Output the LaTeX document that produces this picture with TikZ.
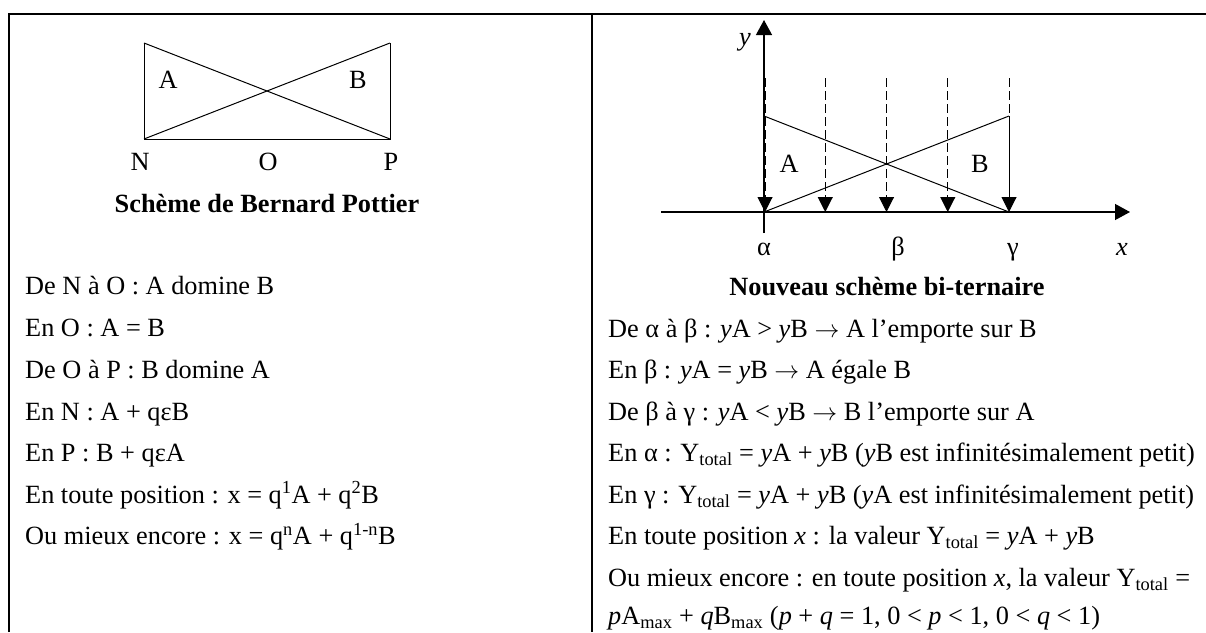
\documentclass[tikz,border=0pt]{standalone}
\usepackage{fontspec}
\setmainfont{Liberation Serif}
\usetikzlibrary{arrows.meta}
\newcommand{\myarr}{$\rightarrow$}
\begin{document}
\begin{tikzpicture}[x=1pt,y=-1pt,
  txt/.style={anchor=base west,inner sep=0pt,font=\fontsize{26.3}{30}\selectfont},
  lbl/.style={inner sep=0pt,font=\fontsize{26.3}{30}\selectfont},
  blbl/.style={anchor=base,inner sep=0pt,font=\fontsize{26.3}{30}\selectfont},
  ttl/.style={anchor=base,inner sep=0pt,font=\fontsize{26.3}{30}\selectfont\bfseries},
  frame/.style={line width=2pt},
  thinline/.style={line width=1pt},
  axis/.style={line width=1.3pt,-{Triangle[length=15pt,width=16pt]}},
  dsh/.style={line width=1pt,dash pattern=on 9pt off 4pt,-{Triangle[length=15pt,width=15pt]}},
]
\useasboundingbox (0,0) rectangle (1206,632);
\fill[white] (0,0) rectangle (1206,632);
% table frame
\coordinate (tl) at (9,14);
\coordinate (bl) at (9,632);
\coordinate (tr) at (1206,14);
\coordinate (dt) at (592,14);
\coordinate (db) at (592,632);
\draw[frame] (bl) -- (tl) -- (tr);
\draw[frame] (dt) -- (db);
% ---- left diagram
\coordinate (NT) at (144,43);
\coordinate (NB) at (144,139);
\coordinate (PT) at (390,43);
\coordinate (PB) at (390,139);
\draw[thinline] (NT) -- (NB) -- (PB) -- (PT);
\draw[thinline] (NT) -- (PB);
\draw[thinline] (NB) -- (PT);
\node[lbl] (la) at (168,79.5) {A};
\node[lbl] (lb) at (358,79.5) {B};
\node[blbl] (ln) at (140,170) {N};
\node[blbl] (lo) at (268,170) {O};
\node[blbl] (lp) at (391,170) {P};
\node[ttl] (lt) at (267,212) {Schème de Bernard Pottier};
% left text
\node[txt] (l1) at (25,294) {De N à O : A domine B};
\node[txt] (l2) at (25,336) {En O : A = B};
\node[txt] (l3) at (25,378) {De O à P : B domine A};
\node[txt] (l4) at (25,420) {En N : A + qεB};
\node[txt] (l5) at (25,461.5) {En P : B + qεA};
\node[txt] (l6) at (25,503) {En toute position : x = q\textsuperscript{1}A + q\textsuperscript{2}B};
\node[txt] (l7) at (25,544.5) {Ou mieux encore : x = q\textsuperscript{n}A + q\textsuperscript{1-n}B};
% ---- right diagram
\coordinate (yb) at (764,233);
\coordinate (yt) at (764,20);
\coordinate (xl) at (661,212);
\coordinate (xr) at (1130,212);
\coordinate (Atop) at (764,116);
\coordinate (Abot) at (764,212);
\coordinate (Btop) at (1009,116);
\coordinate (Bbot) at (1009,212);
\draw[axis] (yb) -- (yt);
\draw[axis] (xl) -- (xr);
\draw[thinline] (Atop) -- (Bbot);
\draw[thinline] (Abot) -- (Btop);
\draw[thinline] (Btop) -- (1009,200);
\foreach \xx in {765,825.25,886.5,947.75,1009}{
  \coordinate (dtop) at (\xx,78);
  \coordinate (dbot) at (\xx,212);
  \draw[dsh] (dtop) -- (dbot);
}
\node[lbl] (ra) at (789,164) {A};
\node[lbl] (rb) at (980,164) {B};
\node[blbl] (ry) at (745,45) {\textit{y}};
\node[blbl] (ral) at (764,255) {α};
\node[blbl] (rbe) at (898,255) {β};
\node[blbl] (rga) at (1013,255) {γ};
\node[blbl] (rx) at (1122,255) {\textit{x}};
\node[ttl] (rt) at (887,295) {Nouveau schème bi-ternaire};
% right text
\node[txt] (r1) at (608,337) {De α à β : \textit{y}A > \textit{y}B \myarr{} A l’emporte sur B};
\node[txt] (r2) at (608,378) {En β : \textit{y}A = \textit{y}B \myarr{} A égale B};
\node[txt] (r3) at (608,420) {De β à γ : \textit{y}A < \textit{y}B \myarr{} B l’emporte sur A};
\node[txt] (r4) at (608,461.5) {En α : Y\textsubscript{total} = \textit{y}A + \textit{y}B (\textit{y}B est infinitésimalement petit)};
\node[txt] (r5) at (608,503) {En γ : Y\textsubscript{total} = \textit{y}A + \textit{y}B (\textit{y}A est infinitésimalement petit)};
\node[txt] (r6) at (608,544.5) {En toute position \textit{x} : la valeur Y\textsubscript{total} = \textit{y}A + \textit{y}B};
\node[txt] (r7) at (608,586) {Ou mieux encore : en toute position \textit{x}, la valeur Y\textsubscript{total} =};
\node[txt] (r8) at (608,624.5) {\textit{p}A\textsubscript{max} + \textit{q}B\textsubscript{max} (\textit{p} + \textit{q} = 1, 0 < \textit{p} < 1, 0 < \textit{q} < 1)};
\end{tikzpicture}
\end{document}
